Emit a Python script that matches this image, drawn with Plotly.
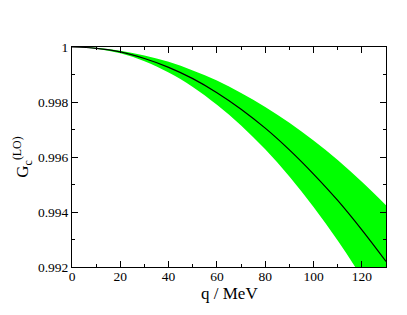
import plotly.graph_objects as go

q = [0, 10, 20, 30, 40, 50, 60, 70, 80, 90, 100, 110, 120, 130]
g_center = [1.0, 0.99995, 0.99982, 0.99958, 0.99926, 0.99885, 0.99834, 0.99774,
            0.99705, 0.99626, 0.99538, 0.99442, 0.99335, 0.99220]
g_upper = [1.0, 0.99997, 0.99986, 0.99969, 0.99946, 0.99915, 0.99878, 0.99833,
           0.99782, 0.99725, 0.99660, 0.99589, 0.99510, 0.99425]
g_lower = [1.0, 0.99994, 0.99977, 0.99948, 0.99907, 0.99855, 0.99790, 0.99715,
           0.99628, 0.99529, 0.99418, 0.99296, 0.99162, 0.99016]

x_ticks = [0, 20, 40, 60, 80, 100, 120]
y_ticks = [0.992, 0.994, 0.996, 0.998, 1.0]
y_labels = ["0.992", "0.994", "0.996", "0.998", "1"]

green = "rgb(0,255,0)"
font = "Liberation Serif"

fig = go.Figure()
fig.add_trace(go.Scatter(x=q, y=g_upper, mode="lines", line=dict(color=green, width=0, shape="spline"),
                         showlegend=False, hoverinfo="skip"))
fig.add_trace(go.Scatter(x=q, y=g_lower, mode="lines", line=dict(color=green, width=0, shape="spline"),
                         fill="tonexty", fillcolor=green, showlegend=False, hoverinfo="skip"))
fig.add_trace(go.Scatter(x=q, y=g_center, mode="lines", line=dict(color="black", width=1.2, shape="spline"),
                         showlegend=False))

axis_common = dict(
    showgrid=False, zeroline=False, showline=True, linecolor="black", linewidth=1,
    mirror="allticks", ticks="inside", ticklen=6, tickwidth=1, tickcolor="black",
)

fig.update_xaxes(range=[0, 130], tickvals=x_ticks, ticklabelstandoff=-3,
                 tickfont=dict(family=font, size=13.5, color="black"),
                 minor=dict(dtick=10, tick0=0, ticks="inside", ticklen=3, tickcolor="black"),
                 **axis_common)
fig.update_yaxes(range=[0.992, 1.0], tickvals=y_ticks, ticktext=y_labels,
                 tickfont=dict(family=font, size=13.5, color="black"),
                 minor=dict(dtick=0.001, tick0=0.992, ticks="inside", ticklen=3, tickcolor="black"),
                 title=dict(text="G<sub>c</sub><sup>(LO)</sup>", font=dict(family=font, size=17, color="black"), standoff=4),
                 **axis_common)

fig.add_annotation(text="q / MeV", xref="paper", yref="paper", x=0.5, y=0,
                   xanchor="center", yanchor="middle", yshift=-26, showarrow=False,
                   font=dict(family=font, size=17, color="black"))

fig.update_layout(
    width=399, height=307,
    margin=dict(l=64, r=21, t=39, b=48),
    paper_bgcolor="white", plot_bgcolor="white",
    font=dict(family=font, color="black"),
)

fig.write_html("out.html")
